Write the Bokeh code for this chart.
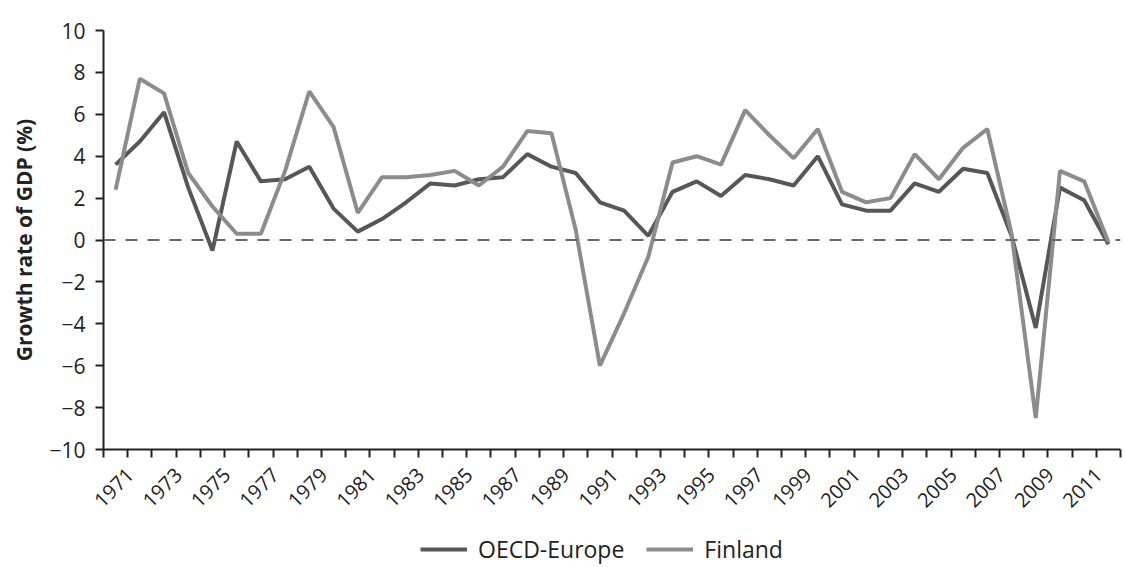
import math
from bokeh.plotting import figure
from bokeh.layouts import column
from bokeh.models import (Range1d, FixedTicker, CustomJSTickFormatter, Span,
                          Legend, LegendItem)
from bokeh.embed import file_html
from bokeh.resources import INLINE

years = list(range(1971, 2013))
oecd_europe = [3.6, 4.7, 6.1, 2.5, -0.5, 4.7, 2.8, 2.9, 3.5, 1.5,
               0.4, 1.0, 1.8, 2.7, 2.6, 2.9, 3.0, 4.1, 3.5, 3.2,
               1.8, 1.4, 0.2, 2.3, 2.8, 2.1, 3.1, 2.9, 2.6, 4.0,
               1.7, 1.4, 1.4, 2.7, 2.3, 3.4, 3.2, 0.2, -4.2, 2.5,
               1.9, -0.2]
finland = [2.4, 7.7, 7.0, 3.2, 1.6, 0.3, 0.3, 3.3, 7.1, 5.4,
           1.3, 3.0, 3.0, 3.1, 3.3, 2.6, 3.5, 5.2, 5.1, 0.5,
           -6.0, -3.5, -0.8, 3.7, 4.0, 3.6, 6.2, 5.0, 3.9, 5.3,
           2.3, 1.8, 2.0, 4.1, 2.9, 4.4, 5.3, 0.3, -8.5, 3.3,
           2.8, -0.1]
series_names = ["OECD-Europe", "Finland"]
label_years = list(range(1971, 2012, 2))
y_ticks = list(range(-10, 11, 2))

FONT = "Open Sans"
AXC = "#222222"
C_OECD = "#575757"
C_FIN = "#8c8c8c"
LBL_SHIFT = 0.6  # label anchor offset (in years) to mimic the reference placement

p = figure(width=1126, height=529, output_backend="svg", toolbar_location=None,
           x_range=Range1d(1970.5, 2012.5), y_range=Range1d(-10, 10),
           min_border_left=103, min_border_right=6, min_border_top=30,
           min_border_bottom=80)
p.outline_line_color = None
p.xgrid.visible = False
p.ygrid.visible = False
p.background_fill_color = "white"
p.border_fill_color = "white"

p.add_layout(Span(location=0, dimension="width", line_color="#666666",
                  line_width=2, line_dash="12 10"))

p.line(years, oecd_europe, line_color=C_OECD, line_width=4)
p.line(years, finland, line_color=C_FIN, line_width=4)

# y axis
ya = p.yaxis[0]
ya.ticker = FixedTicker(ticks=y_ticks, minor_ticks=[])
ya.formatter = CustomJSTickFormatter(code="return tick < 0 ? '\u2212' + Math.abs(tick) : '' + tick;")
ya.axis_line_color = AXC
ya.axis_line_width = 2
ya.major_tick_line_color = AXC
ya.major_tick_line_width = 2
ya.major_tick_out = 8
ya.major_tick_in = 0
ya.major_label_standoff = 10
ya.major_label_text_font = FONT
ya.major_label_text_font_size = "21px"
ya.major_label_text_color = AXC
ya.axis_label = "Growth rate of GDP (%)"
ya.axis_label_text_font = FONT
ya.axis_label_text_font_style = "bold"
ya.axis_label_text_font_size = "21px"
ya.axis_label_text_color = AXC
ya.axis_label_standoff = 8

# x axis
xa = p.xaxis[0]
xa.ticker = FixedTicker(ticks=[y + LBL_SHIFT for y in label_years],
                        minor_ticks=[y - 0.5 for y in years] + [years[-1] + 0.5])
xa.formatter = CustomJSTickFormatter(code="return '' + Math.round(tick - %s);" % LBL_SHIFT)
xa.axis_line_color = AXC
xa.axis_line_width = 2
xa.major_tick_out = 0
xa.major_tick_in = 0
xa.minor_tick_line_color = AXC
xa.minor_tick_line_width = 2
xa.minor_tick_out = 8
xa.minor_tick_in = 0
xa.major_label_orientation = math.pi / 4
xa.major_label_standoff = 14
xa.major_label_text_font = FONT
xa.major_label_text_font_size = "20px"
xa.major_label_text_color = AXC

# legend strip below the chart
lg = figure(width=1126, height=38, output_backend="svg", toolbar_location=None,
            x_range=Range1d(0, 1), y_range=Range1d(0, 1),
            min_border_left=0, min_border_right=0, min_border_top=0,
            min_border_bottom=0)
lg.axis.visible = False
lg.xgrid.visible = False
lg.ygrid.visible = False
lg.outline_line_color = None
lg.background_fill_color = "white"
lg.border_fill_color = "white"
# legend-only renderers, placed outside the visible range
l1 = lg.line([5, 6], [5, 6], line_color=C_OECD, line_width=4)
l2 = lg.line([5, 6], [5, 6], line_color=C_FIN, line_width=4)

legend = Legend(items=[LegendItem(label=series_names[0], renderers=[l1]),
                       LegendItem(label=series_names[1], renderers=[l2])],
                location=(317, 2), orientation="horizontal",
                padding=0, margin=0, spacing=22, label_standoff=11,
                glyph_width=47, glyph_height=20, label_height=20,
                border_line_color=None, background_fill_alpha=0,
                label_text_font=FONT, label_text_font_size="23px",
                label_text_color=AXC)
lg.add_layout(legend)

layout = column(p, lg, spacing=0)
open("out.html", "w").write(file_html(layout, INLINE))
